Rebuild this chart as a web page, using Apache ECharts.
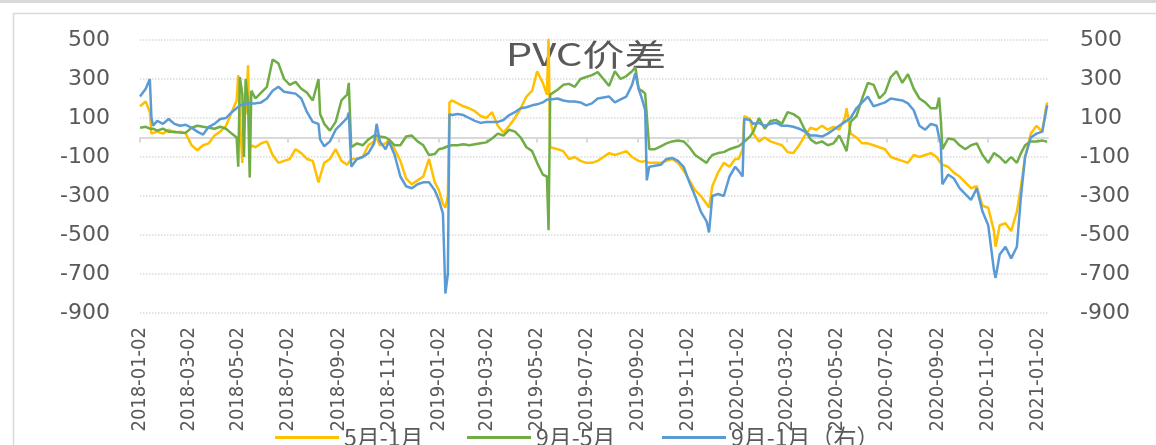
<!DOCTYPE html>
<html>
<head>
<meta charset="utf-8">
<script src="https://cdn.jsdelivr.net/npm/echarts@6.0.0/dist/echarts.min.js"></script>
<style>
html, body { margin: 0; padding: 0; background: #fff; }
#chart { width: 1156px; height: 445px; }
</style>
</head>
<body>
<div id="chart"></div>
<script>
// 取样日期（约每周一个点，尖峰处加密）
var dates = [
	'2018-01-02','2018-01-09','2018-01-14','2018-01-16','2018-01-18','2018-01-23','2018-01-30',
	'2018-02-06','2018-02-13','2018-02-20','2018-02-27',
	'2018-03-06','2018-03-13','2018-03-20','2018-03-27',
	'2018-04-03','2018-04-10','2018-04-17','2018-04-24','2018-04-30',
	'2018-05-02','2018-05-04','2018-05-07','2018-05-09','2018-05-11','2018-05-14','2018-05-16','2018-05-18','2018-05-23','2018-05-30',
	'2018-06-06','2018-06-13','2018-06-20','2018-06-27',
	'2018-07-04','2018-07-11','2018-07-18','2018-07-25',
	'2018-08-01','2018-08-08','2018-08-10','2018-08-15','2018-08-22','2018-08-29',
	'2018-09-05','2018-09-12','2018-09-14','2018-09-17','2018-09-24',
	'2018-10-01','2018-10-08','2018-10-15','2018-10-18','2018-10-22','2018-10-29',
	'2018-11-02','2018-11-09','2018-11-16','2018-11-23','2018-11-30',
	'2018-12-07','2018-12-14','2018-12-21','2018-12-28',
	'2019-01-02','2019-01-07','2019-01-10','2019-01-13','2019-01-15','2019-01-18','2019-01-25',
	'2019-02-01','2019-02-08','2019-02-15','2019-02-22',
	'2019-03-01','2019-03-08','2019-03-15','2019-03-22','2019-03-29',
	'2019-04-05','2019-04-12','2019-04-19','2019-04-26',
	'2019-05-02','2019-05-09','2019-05-14','2019-05-16','2019-05-18','2019-05-20','2019-05-27',
	'2019-06-03','2019-06-10','2019-06-17','2019-06-24',
	'2019-07-01','2019-07-08','2019-07-15','2019-07-22','2019-07-29',
	'2019-08-05','2019-08-12','2019-08-19','2019-08-26','2019-08-30',
	'2019-09-03','2019-09-07','2019-09-11','2019-09-13','2019-09-16','2019-09-23','2019-09-30',
	'2019-10-07','2019-10-14','2019-10-21','2019-10-28',
	'2019-11-04','2019-11-11','2019-11-18','2019-11-25','2019-11-28',
	'2019-12-02','2019-12-09','2019-12-16','2019-12-23','2019-12-30',
	'2020-01-03','2020-01-08','2020-01-10','2020-01-17','2020-01-21','2020-01-28',
	'2020-02-04','2020-02-11','2020-02-18','2020-02-25',
	'2020-03-03','2020-03-10','2020-03-17','2020-03-24','2020-03-31',
	'2020-04-07','2020-04-14','2020-04-21','2020-04-28',
	'2020-05-05','2020-05-12','2020-05-14','2020-05-19','2020-05-26',
	'2020-06-02','2020-06-09','2020-06-16','2020-06-23','2020-06-30',
	'2020-07-07','2020-07-14','2020-07-21','2020-07-28',
	'2020-08-04','2020-08-11','2020-08-18','2020-08-25',
	'2020-09-01','2020-09-04','2020-09-06','2020-09-08','2020-09-15','2020-09-22','2020-09-29',
	'2020-10-06','2020-10-13','2020-10-20','2020-10-27',
	'2020-11-03','2020-11-10','2020-11-12','2020-11-17','2020-11-24',
	'2020-12-01','2020-12-08','2020-12-13','2020-12-18','2020-12-25',
	'2021-01-01','2021-01-08','2021-01-12','2021-01-14'
];

// 5月-1月
var spread51 = [
	160,185,130,20,10,30,20,
	40,25,30,20,
	-40,-65,-40,-30,
	10,30,60,130,190,
	320,100,-130,150,120,370,-60,-40,-50,-30,
	-20,-90,-130,-120,
	-110,-60,-80,-110,
	-120,-230,-200,-130,-110,-60,
	-120,-140,-145,-110,-110,
	-100,-40,-20,0,-40,-30,
	-10,-60,-120,-210,-240,
	-220,-200,-110,-230,
	-270,-340,-360,-300,180,190,175,
	160,150,135,110,
	100,130,60,25,60,
	100,150,210,240,
	340,280,220,510,-50,-40,-60,
	-70,-110,-100,-120,
	-130,-130,-120,-100,-80,
	-90,-80,-70,-100,-110,
	-120,-125,-120,-120,-130,-130,-130,
	-120,-110,-130,-170,
	-220,-270,-300,-340,-360,
	-250,-180,-130,-150,-110,
	-110,-60,110,95,20,-20,
	0,-20,-30,-40,
	-75,-80,-40,10,50,
	40,60,40,55,
	40,100,150,20,0,
	-30,-30,-40,-50,-60,
	-100,-110,-120,-130,
	-90,-100,-90,-80,
	-100,-120,-130,-140,-150,-180,-200,
	-230,-260,-250,-350,
	-360,-480,-560,-450,-440,
	-480,-380,-250,-100,20,
	60,30,140,180
];

// 9月-5月
var spread95 = [
	50,55,45,40,45,35,45,
	30,30,25,25,
	50,60,55,50,
	45,55,45,20,0,
	-150,310,220,-100,300,180,-205,240,200,230,
	260,400,380,300,
	270,285,250,230,
	190,300,120,70,35,80,
	190,220,280,-50,-30,
	-40,-10,10,10,5,0,
	-10,-40,-40,5,10,
	-20,-40,-90,-85,
	-60,-55,-50,-45,-40,-40,-40,
	-35,-40,-35,-30,
	-25,-5,20,10,40,
	30,0,-50,-70,
	-130,-190,-200,-476,220,230,245,
	270,275,260,300,
	310,320,335,300,265,
	340,300,315,340,360,
	250,240,225,220,-60,-60,-45,
	-30,-20,-15,-20,
	-50,-90,-110,-130,-110,
	-90,-80,-75,-60,-50,
	-45,-30,-25,5,30,100,
	45,85,90,70,
	130,120,100,40,-10,
	-30,-20,-40,-30,
	10,-50,-70,80,110,
	200,280,270,200,230,
	310,340,280,325,
	250,200,180,150,
	150,205,100,-60,-5,-10,-40,
	-60,-40,-30,-90,
	-130,-80,-90,-100,-130,
	-100,-130,-80,-40,-20,
	-20,-15,-20,-20
];

// 9月-1月（右轴）
var spread91 = [
	210,250,300,100,60,85,70,
	95,70,60,65,
	50,30,15,55,
	70,95,100,130,150,
	160,165,170,170,175,175,178,175,175,180,
	200,240,260,235,
	230,225,200,130,
	80,70,-10,-45,-20,40,
	70,100,128,-150,-110,
	-100,-80,-30,70,-20,-60,
	-20,-90,-200,-250,-260,
	-240,-230,-230,-270,
	-320,-390,-800,-700,120,115,120,
	115,100,85,75,
	80,80,80,90,115,
	130,150,155,165,
	170,180,195,200,195,190,200,
	190,185,185,180,
	165,175,200,205,210,
	180,195,210,270,330,
	250,200,140,-220,-150,-145,-140,
	-110,-105,-120,-150,
	-230,-300,-380,-430,-487,
	-300,-290,-300,-200,-150,
	-170,-200,95,90,70,75,
	60,70,75,60,
	60,55,45,30,10,
	10,5,20,40,
	60,80,90,100,150,
	180,210,160,170,180,
	200,195,190,175,
	140,60,40,70,
	60,0,-30,-240,-190,-210,-260,
	-290,-320,-260,-380,
	-450,-680,-720,-600,-560,
	-620,-560,-300,-100,0,
	20,30,120,165
];

// 横轴刻度标签（每两个月）
var tickDates = [
	'2018-01-02','2018-03-02','2018-05-02','2018-07-02','2018-09-02','2018-11-02',
	'2019-01-02','2019-03-02','2019-05-02','2019-07-02','2019-09-02','2019-11-02',
	'2020-01-02','2020-03-02','2020-05-02','2020-07-02','2020-09-02','2020-11-02',
	'2021-01-02'
];
var seriesNames = ['5月-1月', '9月-5月', '9月-1月（右）'];

var chart = echarts.init(document.getElementById('chart'));

function ts(s) {
	var p = s.split('-');
	return new Date(+p[0], +p[1] - 1, +p[2]).getTime();
}
function pad(n) { return n < 10 ? '0' + n : '' + n; }
function fmtDate(v) {
	var d = new Date(v);
	return d.getFullYear() + '-' + pad(d.getMonth() + 1) + '-' + pad(d.getDate());
}
function pairs(vals) {
	return dates.map(function (d, i) { return [ts(d), vals[i]]; });
}

var tickValues = tickDates.map(ts);
var xMin = ts('2018-01-02'), xMax = ts('2021-01-15');
var gray = '#595959';
var yLabel = { color: gray, fontSize: 22, fontFamily: 'DejaVu Sans' };
var legendText = { color: gray, fontSize: 23, fontFamily: '"Noto Sans CJK SC"' };

function lineSeries(name, vals, color, yIdx) {
	return {
		name: name, type: 'line', data: pairs(vals), yAxisIndex: yIdx,
		symbol: 'none', showSymbol: false,
		lineStyle: { color: color, width: 2.5 }, itemStyle: { color: color },
		z: 2
	};
}
function legendAt(i, left) {
	return {
		data: [seriesNames[i]], left: left, top: 421, icon: 'rect',
		itemWidth: 64, itemHeight: 3, textStyle: legendText
	};
}

chart.setOption({
	animation: false,
	backgroundColor: '#fff',
	grid: { left: 140, right: 108, top: 40, bottom: 132 },
	graphic: [
		{ type: 'rect', shape: { x: 0, y: 0, width: 1156, height: 3 }, style: { fill: '#d9d9d9' }, z: -1 },
		{ type: 'rect', shape: { x: 13.5, y: 13.5, width: 1200, height: 500 }, style: { fill: 'none', stroke: '#d9d9d9', lineWidth: 1.5 }, z: -1 },
		{
			type: 'text', x: 586, y: 54, scaleX: 1.35, z: 0,
			style: {
				text: 'PVC价差', fill: gray, font: '31px "Noto Sans CJK SC"',
				textAlign: 'center', textVerticalAlign: 'middle', verticalAlign: 'middle'
			}
		}
	],
	legend: [legendAt(0, 270), legendAt(1, 462), legendAt(2, 657)],
	xAxis: [
		{
			type: 'value', min: xMin, max: xMax, position: 'bottom', scale: true,
			axisLine: { show: false, onZero: false }, axisTick: { show: false }, splitLine: { show: false },
			axisLabel: {
				customValues: tickValues, formatter: fmtDate, rotate: 90, margin: 14,
				color: gray, fontSize: 20, fontFamily: '"DejaVu Sans Condensed", "Liberation Sans"',
				hideOverlap: false
			}
		},
		{
			type: 'value', min: xMin, max: xMax, position: 'bottom', scale: true,
			axisLine: { show: true, onZero: true, lineStyle: { color: '#d9d9d9', width: 2 } },
			axisTick: { show: true, customValues: tickValues, length: 5, lineStyle: { color: '#d9d9d9', width: 2 } },
			axisLabel: { show: false }, splitLine: { show: false }
		}
	],
	yAxis: [
		{
			type: 'value', min: -900, max: 500, interval: 200, position: 'left',
			axisLine: { show: false }, axisTick: { show: false },
			axisLabel: Object.assign({ margin: 30 }, yLabel),
			splitLine: { lineStyle: { color: '#d9d9d9', type: 'dotted', width: 1.5 } }
		},
		{
			type: 'value', min: -900, max: 500, interval: 200, position: 'right',
			axisLine: { show: false }, axisTick: { show: false },
			axisLabel: Object.assign({ margin: 32 }, yLabel),
			splitLine: { show: false }
		}
	],
	series: [
		lineSeries(seriesNames[0], spread51, '#FFC000', 0),
		lineSeries(seriesNames[1], spread95, '#70AD47', 0),
		lineSeries(seriesNames[2], spread91, '#5B9BD5', 1)
	]
});
</script>
</body>
</html>
